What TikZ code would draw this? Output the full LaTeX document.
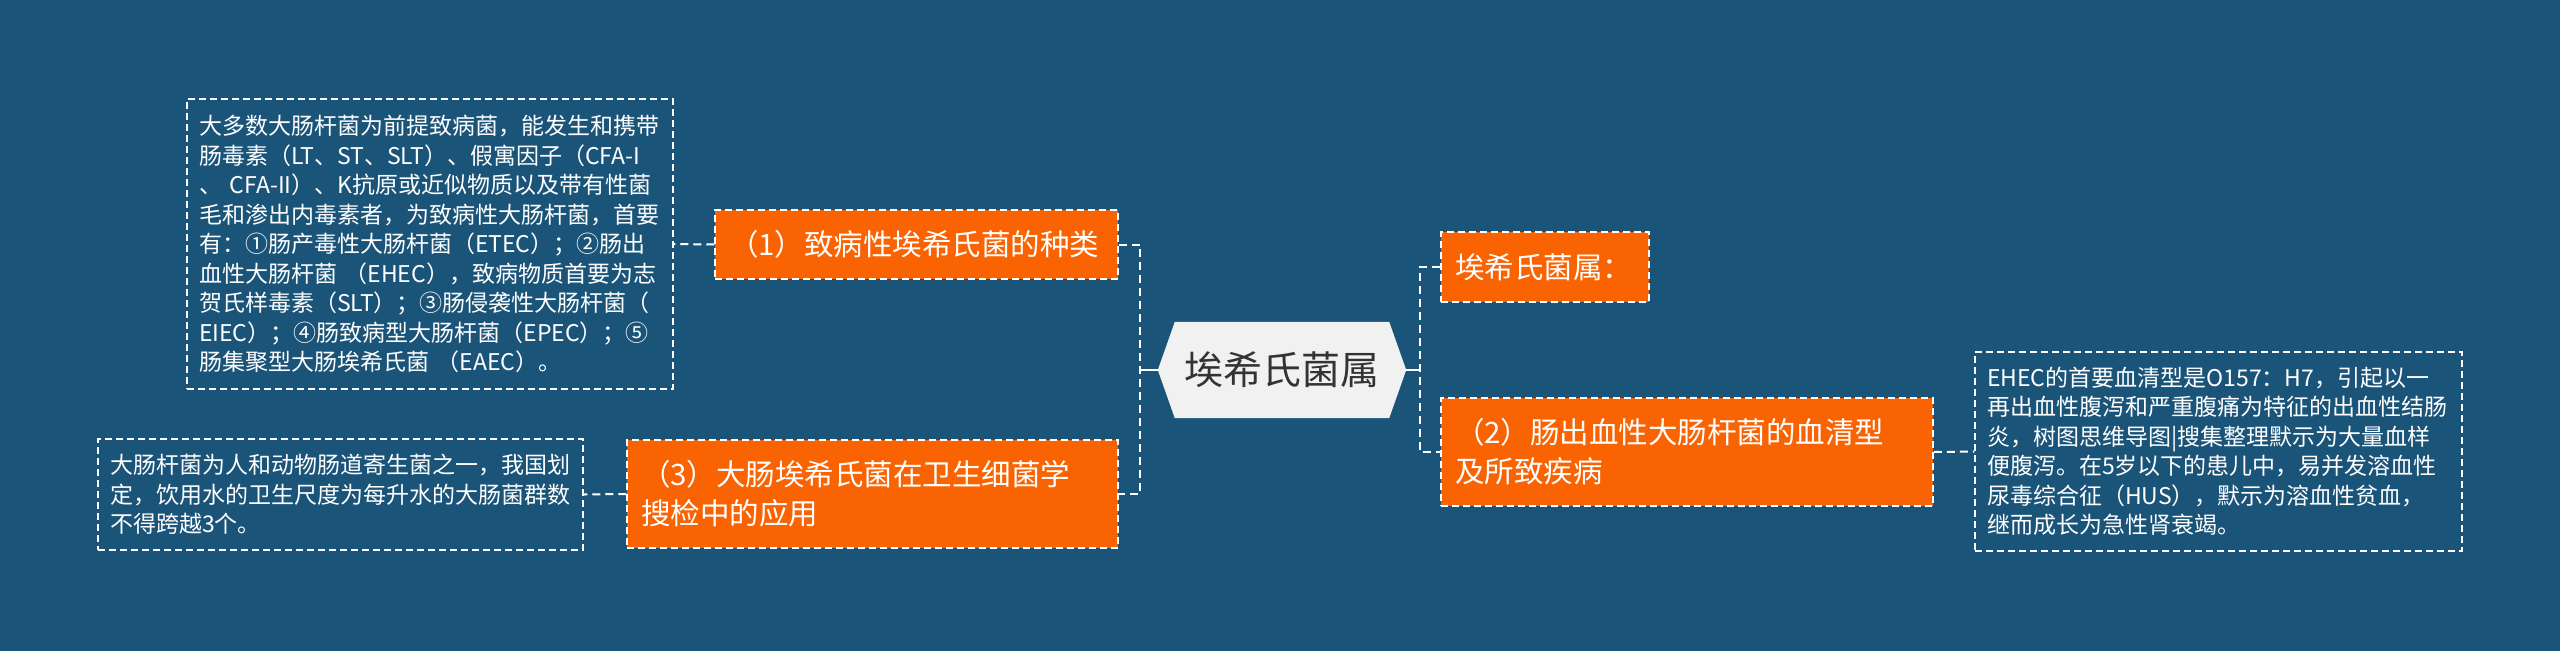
\documentclass[tikz,border=0pt]{standalone}
\usepackage{fontspec}
\setmainfont{Noto Sans CJK SC}
\usetikzlibrary{backgrounds}
\definecolor{bgcol}{RGB}{27,84,121}
\definecolor{orangecol}{RGB}{250,99,2}
\definecolor{hexcol}{RGB}{241,241,241}
\definecolor{hextext}{RGB}{51,51,51}
\tikzset{
  leafbox/.style={draw=white, dashed, dash pattern=on 7pt off 4pt, line width=1.5pt, text=white, align=left,
    font=\fontsize{23}{29.5}\selectfont, inner xsep=12pt, inner ysep=0pt, anchor=center},
  obox/.style={fill=orangecol, draw=white, dash pattern=on 7pt off 4pt, line width=1.5pt, text=white, align=left,
    font=\fontsize{29.5}{39}\selectfont, inner xsep=14pt, inner ysep=0pt, anchor=center},
  hexnode/.style={text=hextext, font=\fontsize{39}{44}\selectfont, minimum width=248pt, minimum height=96pt, inner sep=0pt},
  conn/.style={draw=white, line width=2pt, dash pattern=on 8pt off 5pt},
  stub/.style={draw=white, line width=2.5pt},
}
\begin{document}
\begin{tikzpicture}[x=1pt,y=-1pt]
\useasboundingbox (0,0) rectangle (2560,651);
% central node
\node[hexnode] (hex) at (1282,370) {埃希氏菌属};
% first level
\node[obox, text width=375pt, minimum height=69pt] (b1) at (916.5,244.5) {（1）致病性埃希氏菌的种类};
\node[obox, text width=463pt, minimum height=108pt] (b3) at (872.5,494) {（3）大肠埃希氏菌在卫生细菌学\\搜检中的应用};
\node[obox, text width=180pt, minimum height=70pt] (rb1) at (1545,267) {埃希氏菌属：};
\node[obox, text width=464pt, minimum height=108pt] (b2) at (1687,452) {（2）肠出血性大肠杆菌的血清型\\及所致疾病};
% leaves
\node[leafbox, text width=462pt, minimum height=290pt] (l1) at (430,244) {大多数大肠杆菌为前提致病菌，能发生和携带\\肠毒素（LT、ST、SLT）、假寓因子（CFA-I\\、 CFA-II）、K抗原或近似物质以及带有性菌\\毛和渗出内毒素者，为致病性大肠杆菌，首要\\有：①肠产毒性大肠杆菌（ETEC）；②肠出\\血性大肠杆菌 （EHEC），致病物质首要为志\\贺氏样毒素（SLT）；③肠侵袭性大肠杆菌（\\EIEC）；④肠致病型大肠杆菌（EPEC）；⑤\\肠集聚型大肠埃希氏菌 （EAEC）。};
\node[leafbox, text width=461pt, minimum height=111pt] (l2) at (340.5,494.5) {大肠杆菌为人和动物肠道寄生菌之一，我国划\\定，饮用水的卫生尺度为每升水的大肠菌群数\\不得跨越3个。};
\node[leafbox, text width=463pt, minimum height=199pt] (r1) at (2218.5,451.5) {EHEC的首要血清型是O157：H7，引起以一\\再出血性腹泻和严重腹痛为特征的出血性结肠\\炎，树图思维导图|搜集整理默示为大量血样\\便腹泻。在5岁以下的患儿中，易并发溶血性\\尿毒综合征（HUS），默示为溶血性贫血，\\继而成长为急性肾衰竭。};
% junction coordinates
\coordinate (jl) at (1140,370);
\coordinate (jr) at (1420,370);
% connectors
\draw[stub] (hex.west) -- (jl);
\draw[stub] (hex.east) -- (jr);
\draw[conn] (b1.east) -| (jl) |- (b3.east);
\draw[conn] (rb1.west) -| (jr) |- (b2.west);
\draw[conn] (b1.west) -- (l1.east);
\draw[conn] (b3.west) -- (l2.east);
\draw[conn] (b2.east) -- (r1.west);
% backgrounds
\begin{scope}[on background layer]
\fill[bgcol] (0,0) rectangle (2560,651);
\fill[hexcol] (hex.west) -- ([xshift=17pt]hex.north west) -- ([xshift=-17pt]hex.north east) -- (hex.east)
  -- ([xshift=-17pt]hex.south east) -- ([xshift=17pt]hex.south west) -- cycle;
\end{scope}
\end{tikzpicture}
\end{document}
